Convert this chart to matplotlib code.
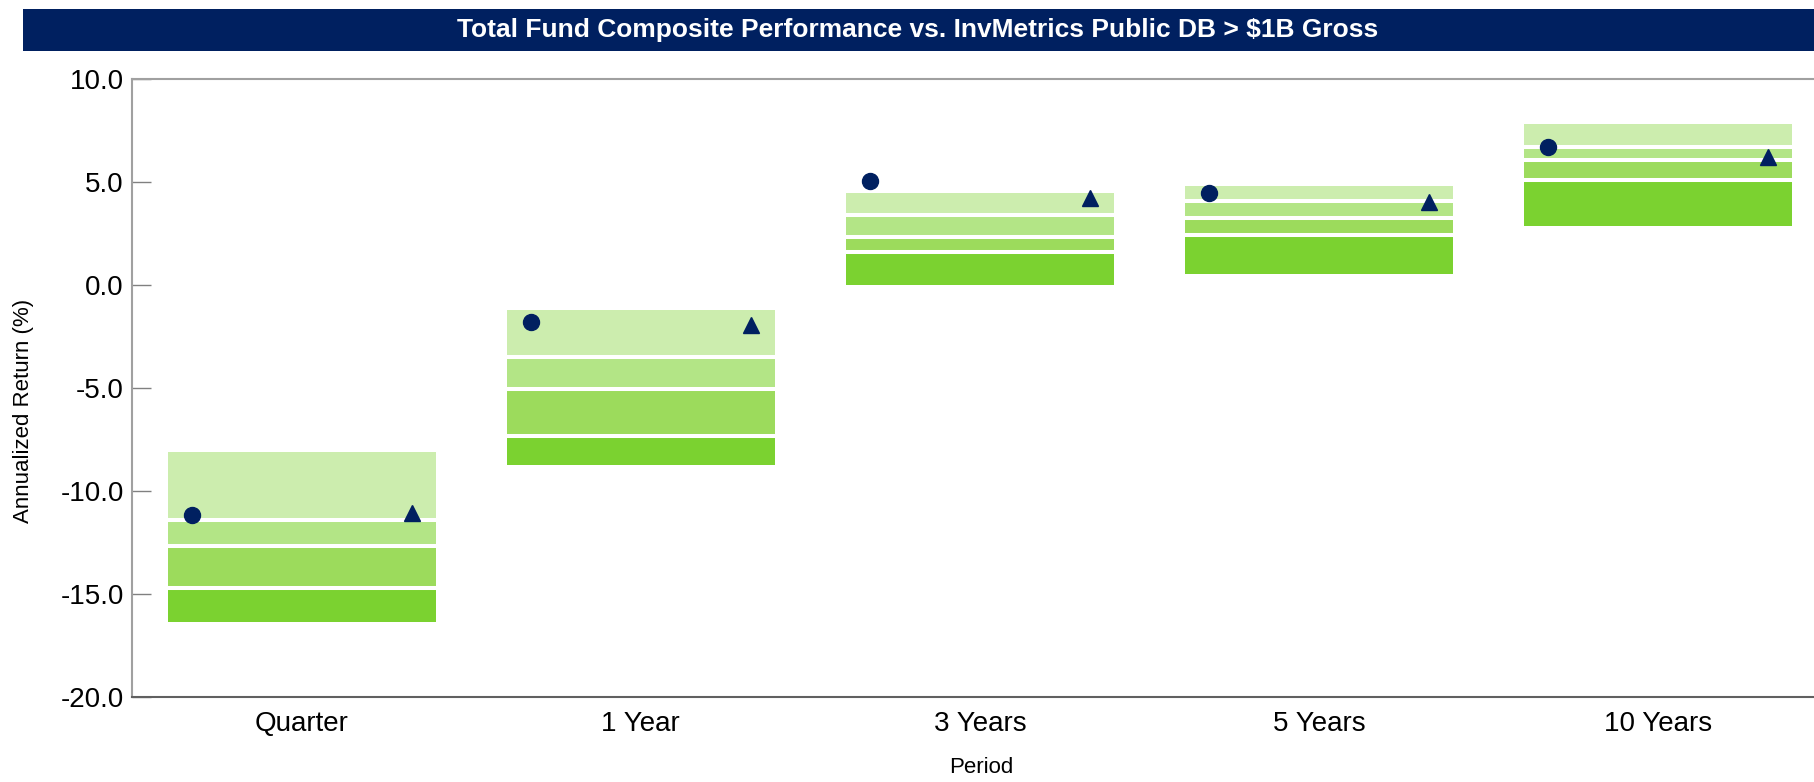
import matplotlib
matplotlib.use("Agg")
import matplotlib.pyplot as plt
from matplotlib.patches import Rectangle

plt.rcParams['axes.unicode_minus'] = False
narrow = ['Liberation Sans Narrow', 'Liberation Sans', 'DejaVu Sans']
regular = ['Liberation Sans', 'DejaVu Sans']

# data
periods = ["Quarter", "1 Year", "3 Years", "5 Years", "10 Years"]
p5 = [-8.1, -1.2, 4.45, 4.8, 7.8]
p25 = [-11.4, -3.5, 3.4, 4.1, 6.7]
p50 = [-12.65, -5.05, 2.35, 3.25, 6.05]
p75 = [-14.7, -7.3, 1.6, 2.45, 5.1]
p95 = [-16.35, -8.75, 0.0, 0.55, 2.85]
fund_return = [-11.15, -1.8, 5.07, 4.45, 6.7]
benchmark_return = [-11.08, -1.96, 4.23, 4.01, 6.21]
yticks = [-20, -15, -10, -5, 0, 5, 10]

band_colors = ['#CCEDAE', '#B3E586', '#9CDB5C', '#7BD230']
navy = '#002060'

fig = plt.figure(figsize=(18.14, 7.82), dpi=100)
ax = fig.add_axes([0.0729, 0.1083, 0.9271, 0.7907])

# title banner
fig.patches.append(Rectangle((0.0127, 0.9348), 0.9873, 0.0532, transform=fig.transFigure,
                             facecolor=navy, edgecolor='none'))
fig.text(0.506, 0.961, "Total Fund Composite Performance vs. InvMetrics Public DB > $1B Gross",
         color='white', fontsize=19, fontweight='bold', family=narrow,
         ha='center', va='center')

x = list(range(len(periods)))
w = 0.79
edges = [p5, p25, p50, p75, p95]
for k in range(4):
    tops = edges[k]
    bots = edges[k + 1]
    ax.bar(x, [t - b for t, b in zip(tops, bots)], bottom=bots, width=w,
           color=band_colors[k], edgecolor='none', zorder=2)
for i in x:
    for level in (p25[i], p50[i], p75[i]):
        ax.hlines(level, i - w / 2, i + w / 2, color='white', lw=2.9, zorder=3)

off = 0.325
ax.plot([i - off for i in x], fund_return, 'o', color=navy, ms=11.5, zorder=4)
ax.plot([i + off for i in x], benchmark_return, '^', color=navy, ms=11.5, zorder=4)

ax.set_xlim(-0.5, 4.46)
ax.set_ylim(-20, 10)
ax.set_yticks(yticks)
ax.set_yticklabels([f"{v:.1f}" for v in yticks], family=narrow, fontsize=20)
ax.set_xticks(x)
ax.set_xticklabels(periods, family=narrow, fontsize=20)
ax.tick_params(axis='y', direction='in', length=14, width=1, color='#808080', pad=6)
ax.tick_params(axis='x', length=0, pad=10)

ax.spines['right'].set_visible(False)
ax.spines['left'].set_color('#A0A0A0')
ax.spines['left'].set_linewidth(1.5)
ax.spines['top'].set_color('#A0A0A0')
ax.spines['top'].set_linewidth(1.5)
ax.spines['bottom'].set_color('#606060')
ax.spines['bottom'].set_linewidth(1.5)

ax.set_ylabel("Annualized Return (%)", family=regular, fontsize=16)
ax.yaxis.set_label_coords(-0.0585, 0.463)
ax.set_xlabel("Period", family=regular, fontsize=16)
ax.xaxis.set_label_coords(0.5047, -0.0966)

fig.savefig("out.png", dpi=100)
